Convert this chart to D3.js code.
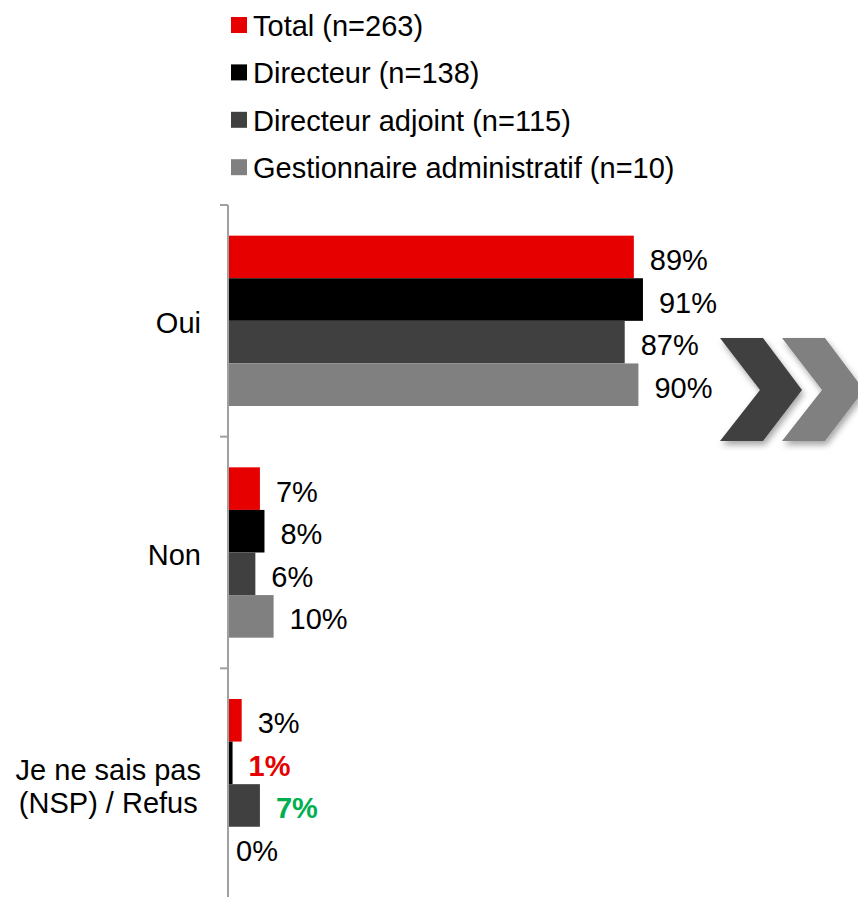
<!DOCTYPE html>
<html lang="fr">
<head>
    <meta charset="UTF-8">
    <title>Oui / Non / NSP</title>
    <script src="https://d3js.org/d3.v7.min.js"></script>
    <style>
        body { margin: 0; background: #fff; }
        svg text { font-family: "Liberation Sans", Arial, sans-serif; fill: #000; }
    </style>
</head>
<body>
    <svg id="chart" width="858" height="897"></svg>
    <script>
        // data
        const categories = ['Oui', 'Non', 'Je ne sais pas\n(NSP) / Refus'];
        const series = ['Total (n=263)', 'Directeur (n=138)', 'Directeur adjoint (n=115)', 'Gestionnaire administratif (n=10)'];
        const colors = ['#E60000', '#000000', '#404040', '#808080'];
        const values = [
            [89, 91, 87, 90],   // Oui
            [7, 8, 6, 10],      // Non
            [3, 1, 7, 0]        // NSP / Refus
        ];
        // significance markers on labels: '' normal, 'low' red bold, 'high' green bold
        const marks = [
            ['', '', '', ''],
            ['', '', '', ''],
            ['', 'low', 'high', '']
        ];

        const svg = d3.select('#chart');
        const fontSize = 29;

        const x = d3.scaleLinear().domain([0, 100]).range([228, 684]);
        const y = d3.scaleBand().domain(categories).range([205, 900]);
        const yInner = d3.scaleBand().domain(series).range([0, y.bandwidth()])
            .paddingInner(0).paddingOuter(0.72);

        // legend
        const legend = svg.append('g');
        series.forEach((s, i) => {
            const cy = 25 + i * 47.4;
            legend.append('rect')
                .attr('x', 231).attr('y', cy - 8)
                .attr('width', 16).attr('height', 16)
                .attr('fill', colors[i]);
            legend.append('text')
                .attr('x', 253).attr('y', cy + 1)
                .attr('dominant-baseline', 'central')
                .style('font-size', fontSize + 'px')
                .text(s);
        });

        // bars + labels
        categories.forEach((c, ci) => {
            const g = svg.append('g').attr('transform', `translate(0,${y(c)})`);
            series.forEach((s, si) => {
                const v = values[ci][si];
                g.append('rect')
                    .attr('x', x(0))
                    .attr('y', yInner(s))
                    .attr('width', x(v) - x(0))
                    .attr('height', yInner.bandwidth())
                    .attr('fill', colors[si]);
                const m = marks[ci][si];
                g.append('text')
                    .attr('x', x(v) + (v > 0 ? 16 : 8))
                    .attr('y', yInner(s) + yInner.bandwidth() / 2 + 3)
                    .attr('dominant-baseline', 'central')
                    .style('font-size', fontSize + 'px')
                    .style('font-weight', m ? 'bold' : 'normal')
                    .style('fill', m === 'low' ? '#E60000' : m === 'high' ? '#00B050' : '#000')
                    .text(v + '%');
            });
        });

        // category axis
        const axis = svg.append('g').attr('transform', `translate(${x(0)},0)`)
            .call(d3.axisLeft(y).tickSize(0).tickFormat(''));
        axis.select('.domain').remove();
        axis.append('line')
            .attr('x1', 0).attr('x2', 0).attr('y1', 205).attr('y2', 900)
            .attr('stroke', '#A0A0A0').attr('stroke-width', 2);
        // tick marks sit at band edges
        const edges = categories.map(c => y(c)).concat([y.range()[1]]);
        axis.selectAll('line.edge').data(edges).join('line')
            .attr('class', 'edge')
            .attr('x1', -8).attr('x2', 0)
            .attr('y1', d => d).attr('y2', d => d)
            .attr('stroke', '#A0A0A0').attr('stroke-width', 2);

        // category labels, multi-line ones centred on their widest line
        categories.forEach(c => {
            const lines = c.split('\n');
            const t = svg.append('text')
                .style('font-size', fontSize + 'px')
                .attr('text-anchor', lines.length > 1 ? 'middle' : 'end');
            const lh = 33;
            const cy = y(c) + y.bandwidth() / 2 - (lines.length - 1) * lh / 2 + 2;
            lines.forEach((l, i) => {
                t.append('tspan')
                    .attr('y', cy + i * lh)
                    .attr('dominant-baseline', 'central')
                    .text(l);
            });
            if (lines.length > 1) {
                const w = d3.max(t.selectAll('tspan').nodes(), n => n.getComputedTextLength());
                t.selectAll('tspan').attr('x', 201 - w / 2);
            } else {
                t.selectAll('tspan').attr('x', 201);
            }
        });

        // chevrons
        const defs = svg.append('defs');
        const f = defs.append('filter').attr('id', 'shadow')
            .attr('x', '-20%').attr('y', '-20%').attr('width', '150%').attr('height', '150%');
        f.append('feDropShadow')
            .attr('dx', 2).attr('dy', 4).attr('stdDeviation', 3)
            .attr('flood-color', '#000').attr('flood-opacity', 0.35);

        const chevron = (x0) => [
            [x0, 338], [x0 + 43, 338], [x0 + 82, 390],
            [x0 + 43, 441], [x0, 441], [x0 + 40, 390]
        ];
        [[720, '#404040'], [782, '#808080']].forEach(([x0, col]) => {
            svg.append('polygon')
                .attr('points', chevron(x0).map(p => p.join(',')).join(' '))
                .attr('fill', col)
                .attr('filter', 'url(#shadow)');
        });
    </script>
</body>
</html>
